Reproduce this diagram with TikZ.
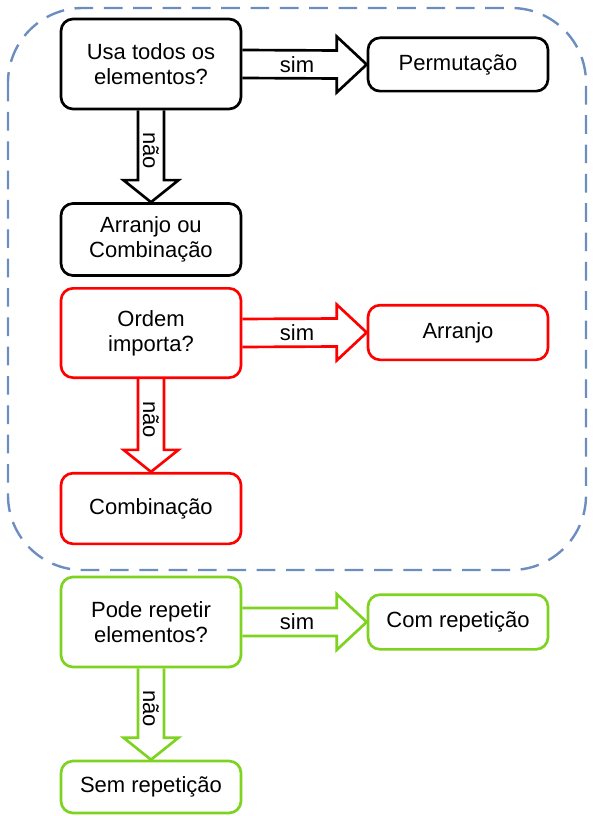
\documentclass[tikz,border=0pt]{standalone}
\usepackage{fontspec}
\setmainfont{Liberation Sans}
\usepackage{tikz}
\usetikzlibrary{calc}
\definecolor{grupoazul}{RGB}{108,142,191}
\definecolor{verde}{RGB}{126,211,33}

\begin{document}
\begin{tikzpicture}[
  x=0.75pt, y=-0.75pt,
  caixa/.style={draw, line width=2pt, rounded corners=9pt, minimum width=135pt, align=center, font=\fontsize{16.5}{19}\selectfont, inner sep=0pt},
  bloco/.style={line width=2pt},
  rotulo/.style={font=\fontsize{16.5}{19}\selectfont, inner sep=0pt},
  grupo/.style={draw=grupoazul, line width=1.8pt, dash pattern=on 14pt off 8pt, rounded corners=56pt}
]
\useasboundingbox (0,0) rectangle (593,816);
\draw[grupo] (8,8) rectangle (586,570);

% primeira pergunta
\node[caixa, minimum height=67.5pt] (uso) at (151,64) {Usa todos os\\elementos?};
\node[caixa, minimum height=40pt] (perm) at (458,64.5) {Permutação};
\node[caixa, minimum height=54pt] (arrcomb) at (151,239.5) {Arranjo ou\\Combinação};

% segunda pergunta
\node[caixa, draw=red, minimum height=67pt] (ordem) at (151,333) {Ordem\\importa?};
\node[caixa, draw=red, minimum height=41pt] (arranjo) at (458,332.5) {Arranjo};
\node[caixa, draw=red, minimum height=53pt] (comb) at (151,508.5) {Combinação};

% terceira pergunta
\node[caixa, draw=verde, minimum height=67.5pt] (pode) at (151,622) {Pode repetir\\elementos?};
\node[caixa, draw=verde, minimum height=41pt] (comrep) at (458,622) {Com repetição};
\node[caixa, draw=verde, minimum height=39pt] (semrep) at (151,787) {Sem repetição};

% setas sim
\draw[bloco] ($(uso.east)+(0,-14)$) -- ($(perm.west)+(-30,-14)$) -- ($(perm.west)+(-30,-28)$) -- (perm.west)
  -- ($(perm.west)+(-30,28)$) -- ($(perm.west)+(-30,14)$) -- ($(uso.east)+(0,14)$);
\draw[bloco, red] ($(ordem.east)+(0,-14)$) -- ($(arranjo.west)+(-30,-14)$) -- ($(arranjo.west)+(-30,-28)$) -- (arranjo.west)
  -- ($(arranjo.west)+(-30,28)$) -- ($(arranjo.west)+(-30,14)$) -- ($(ordem.east)+(0,14)$);
\draw[bloco, verde] ($(pode.east)+(0,-14)$) -- ($(comrep.west)+(-30,-14)$) -- ($(comrep.west)+(-30,-28)$) -- (comrep.west)
  -- ($(comrep.west)+(-30,28)$) -- ($(comrep.west)+(-30,14)$) -- ($(pode.east)+(0,14)$);

% setas nao
\draw[bloco] ($(uso.south)+(-13,0)$) -- ($(arrcomb.north)+(-13,-22)$) -- ($(arrcomb.north)+(-27.5,-22)$) -- (arrcomb.north)
  -- ($(arrcomb.north)+(27.5,-22)$) -- ($(arrcomb.north)+(13,-22)$) -- ($(uso.south)+(13,0)$);
\draw[bloco, red] ($(ordem.south)+(-13,0)$) -- ($(comb.north)+(-13,-22)$) -- ($(comb.north)+(-27.5,-22)$) -- (comb.north)
  -- ($(comb.north)+(27.5,-22)$) -- ($(comb.north)+(13,-22)$) -- ($(ordem.south)+(13,0)$);
\draw[bloco, verde] ($(pode.south)+(-13,0)$) -- ($(semrep.north)+(-13,-22)$) -- ($(semrep.north)+(-27.5,-22)$) -- (semrep.north)
  -- ($(semrep.north)+(27.5,-22)$) -- ($(semrep.north)+(13,-22)$) -- ($(pode.south)+(13,0)$);

\node[rotulo] (sim1) at ($(uso.east)!0.44!(perm.west)$) {sim};
\node[rotulo] (sim2) at ($(ordem.east)!0.44!(arranjo.west)$) {sim};
\node[rotulo] (sim3) at ($(pode.east)!0.44!(comrep.west)$) {sim};
\node[rotulo, rotate=-90] (nao1) at ($(uso.south)!0.44!(arrcomb.north)$) {não};
\node[rotulo, rotate=-90] (nao2) at ($(ordem.south)!0.44!(comb.north)$) {não};
\node[rotulo, rotate=-90] (nao3) at ($(pode.south)!0.44!(semrep.north)$) {não};
\end{tikzpicture}
\end{document}
